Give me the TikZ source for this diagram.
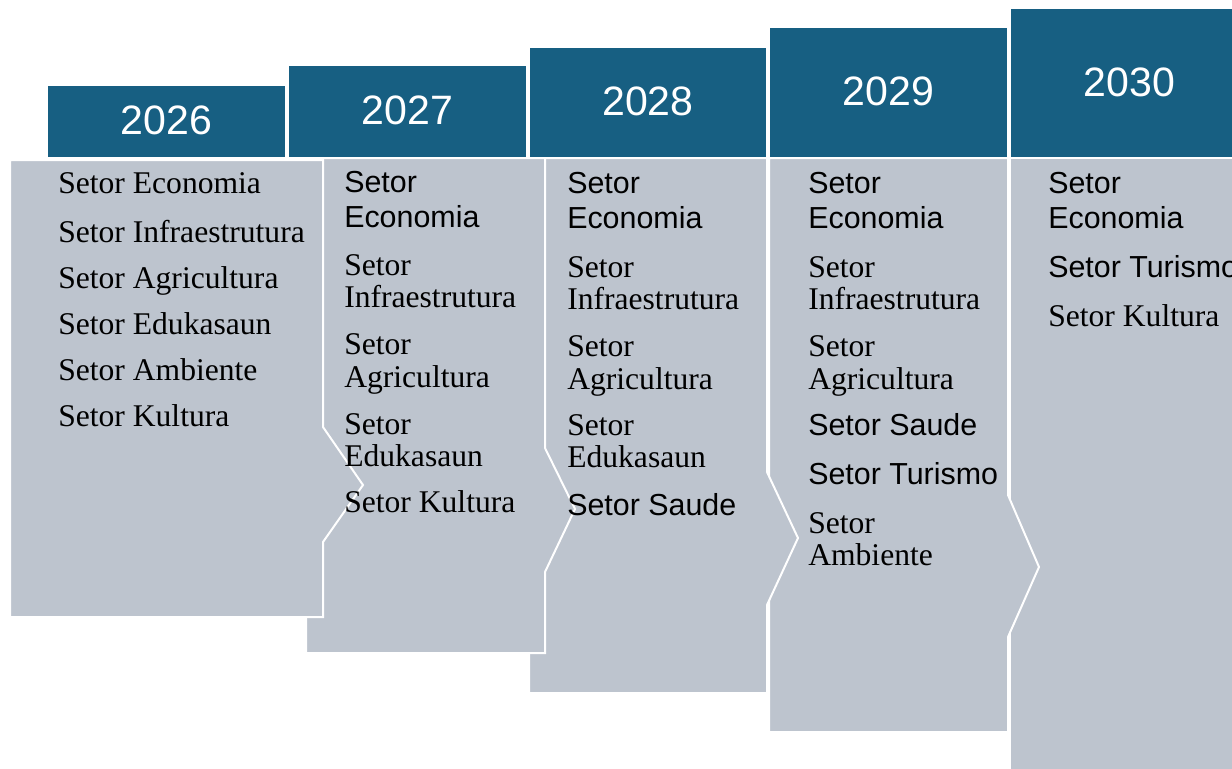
\documentclass[tikz,border=0pt]{standalone}
\usepackage{fontspec}
\setmainfont{Liberation Serif}
\setsansfont{Liberation Sans}
\definecolor{hdrblue}{RGB}{23,95,130}
\definecolor{bodygray}{RGB}{189,196,206}
\tikzset{
  hdr/.style={fill=hdrblue, draw=white, line width=1.2pt},
  body/.style={fill=bodygray, draw=white, line width=1.5pt, line join=miter},
  yr/.style={inner sep=0, text=white, font=\sffamily\fontsize{30.8}{36}\selectfont},
  sr/.style={anchor=base west, inner sep=0, font=\rmfamily\fontsize{23.7}{28}\selectfont},
  ss/.style={anchor=base west, inner sep=0, font=\sffamily\fontsize{22.8}{27}\selectfont},
}
\begin{document}
\begin{tikzpicture}[x=0.75pt, y=-0.75pt]
\useasboundingbox (0,0) rectangle (1232,768);
\clip (0,0) rectangle (1232,768);
\fill[white] (0,0) rectangle (1232,768);
% bodies, back to front
\path[body] (1010,158) -- (1250,158) -- (1250,790) -- (1010,790) -- cycle;
\path[body] (769,158) -- (1008,158) -- (1008,495) -- (1039,567) -- (1008,637) -- (1008,732) -- (769,732) -- cycle;
\path[body] (529,158) -- (767,158) -- (767,472) -- (798,538) -- (767,605) -- (767,693) -- (529,693) -- cycle;
\path[body] (306,158) -- (545,158) -- (545,448) -- (575,509) -- (545,572) -- (545,653) -- (306,653) -- cycle;
\path[body] (10,160) -- (323,160) -- (323,427) -- (363,485) -- (323,542) -- (323,617) -- (10,617) -- cycle;
% headers
\path[hdr] (1010,8) rectangle (1250,158);
\path[hdr] (769,27) rectangle (1008,158);
\path[hdr] (529,47) rectangle (767,158);
\path[hdr] (288,65) rectangle (527,158);
\path[hdr] (47,85) rectangle (286,158);
\node[yr] (y1) at (166.5,120) {2026};
\node[yr] (y2) at (407.5,110) {2027};
\node[yr] (y3) at (648,101.5) {2028};
\node[yr] (y4) at (888.5,91.5) {2029};
\node[yr] (y5) at (1129.5,82) {2030};
% panel 1
\node[sr] (a1) at (58,193) {Setor Economia};
\node[sr] (a2) at (58,242) {Setor Infraestrutura};
\node[sr] (a3) at (58,288) {Setor Agricultura};
\node[sr] (a4) at (58,334) {Setor Edukasaun};
\node[sr] (a5) at (58,380) {Setor Ambiente};
\node[sr] (a6) at (58,426) {Setor Kultura};
% panel 2
\node[ss] (b1) at (344,192) {Setor};
\node[ss] (b1b) at (344,227) {Economia};
\node[sr] (b2) at (344,275) {Setor};
\node[sr] (b2b) at (344,307) {Infraestrutura};
\node[sr] (b3) at (344,354) {Setor};
\node[sr] (b3b) at (344,387) {Agricultura};
\node[sr] (b4) at (344,434) {Setor};
\node[sr] (b4b) at (344,466) {Edukasaun};
\node[sr] (b5) at (344,512) {Setor Kultura};
% panel 3
\node[ss] (c1) at (567,193) {Setor};
\node[ss] (c1b) at (567,228) {Economia};
\node[sr] (c2) at (567,277) {Setor};
\node[sr] (c2b) at (567,309) {Infraestrutura};
\node[sr] (c3) at (567,356) {Setor};
\node[sr] (c3b) at (567,389) {Agricultura};
\node[sr] (c4) at (567,435) {Setor};
\node[sr] (c4b) at (567,467) {Edukasaun};
\node[ss] (c5) at (567,515) {Setor Saude};
% panel 4
\node[ss] (d1) at (808,193) {Setor};
\node[ss] (d1b) at (808,228) {Economia};
\node[sr] (d2) at (808,277) {Setor};
\node[sr] (d2b) at (808,309) {Infraestrutura};
\node[sr] (d3) at (808,356) {Setor};
\node[sr] (d3b) at (808,389) {Agricultura};
\node[ss] (d4) at (808,435) {Setor Saude};
\node[ss] (d5) at (808,484) {Setor Turismo};
\node[sr] (d6) at (808,533) {Setor};
\node[sr] (d6b) at (808,565) {Ambiente};
% panel 5
\node[ss] (e1) at (1048,193) {Setor};
\node[ss] (e1b) at (1048,228) {Economia};
\node[ss] (e2) at (1048,277) {Setor Turismo};
\node[sr] (e3) at (1048,326) {Setor Kultura};
\end{tikzpicture}
\end{document}
